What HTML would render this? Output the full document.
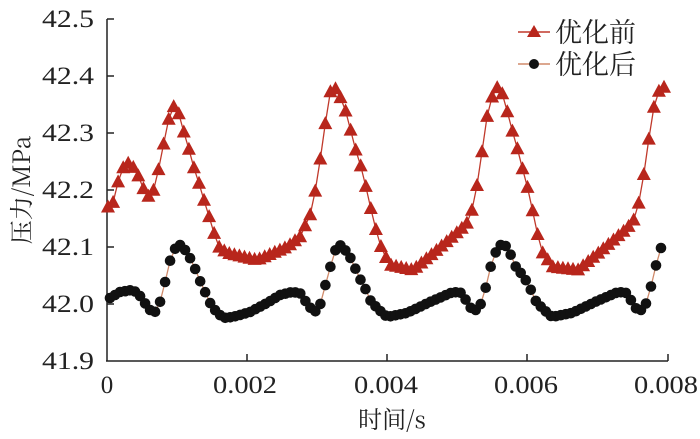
<!DOCTYPE html>
<html><head><meta charset="utf-8"><style>
html,body{margin:0;padding:0;background:#fff;width:700px;height:439px;overflow:hidden}
</style></head><body>
<svg id="s" width="700" height="439" viewBox="0 0 700 439" xmlns="http://www.w3.org/2000/svg" font-family="'Liberation Serif','Noto Serif CJK SC',serif">
<g stroke="#222" stroke-width="1.5" fill="none">
<line x1="107" y1="19" x2="107" y2="361"/>
<line x1="106" y1="361" x2="668" y2="361"/>
<line x1="107" y1="19" x2="114" y2="19"/><line x1="107" y1="76" x2="114" y2="76"/>
<line x1="107" y1="133" x2="114" y2="133"/><line x1="107" y1="190" x2="114" y2="190"/>
<line x1="107" y1="247" x2="114" y2="247"/><line x1="107" y1="304" x2="114" y2="304"/>
<line x1="247" y1="361" x2="247" y2="354"/><line x1="387" y1="361" x2="387" y2="354"/>
<line x1="527" y1="361" x2="527" y2="354"/><line x1="668" y1="361" x2="668" y2="354"/>
</g>
<g font-size="25" text-anchor="end" fill="#222" font-family="'Liberation Serif',serif">
<text x="94" y="27" textLength="52" lengthAdjust="spacingAndGlyphs">42.5</text>
<text x="94" y="84" textLength="52" lengthAdjust="spacingAndGlyphs">42.4</text>
<text x="94" y="141" textLength="52" lengthAdjust="spacingAndGlyphs">42.3</text>
<text x="94" y="198" textLength="52" lengthAdjust="spacingAndGlyphs">42.2</text>
<text x="94" y="255" textLength="52" lengthAdjust="spacingAndGlyphs">42.1</text>
<text x="94" y="312" textLength="52" lengthAdjust="spacingAndGlyphs">42.0</text>
<text x="94" y="369" textLength="52" lengthAdjust="spacingAndGlyphs">41.9</text>
</g>
<g font-size="25" text-anchor="middle" fill="#222" font-family="'Liberation Serif',serif">
<text x="107" y="393">0</text>
<text x="245" y="393" textLength="64" lengthAdjust="spacingAndGlyphs">0.002</text>
<text x="386" y="393" textLength="64" lengthAdjust="spacingAndGlyphs">0.004</text>
<text x="526" y="393" textLength="64" lengthAdjust="spacingAndGlyphs">0.006</text>
<text x="666" y="393" textLength="64" lengthAdjust="spacingAndGlyphs">0.008</text>
</g>
<g font-size="24" text-anchor="middle" fill="#222" font-family="'Noto Serif CJK SC',serif">
<text x="392" y="428">时间/s</text>
<text transform="translate(30,190) rotate(-90)">压力/MPa</text>
</g>
<g id="plot"></g>
<line x1="518" y1="32" x2="550" y2="32" stroke="#c0392b" stroke-width="1.5"/>
<polygon points="534,25 541,37 527,37" fill="#b8261c"/>
<text x="555" y="42" font-size="27" fill="#222" font-family="'Noto Serif CJK SC',serif">优化前</text>
<line x1="518" y1="64" x2="550" y2="64" stroke="#d08a6a" stroke-width="1.5"/>
<circle cx="534" cy="64" r="5" fill="#111"/>
<text x="555" y="74" font-size="27" fill="#222" font-family="'Noto Serif CJK SC',serif">优化后</text>
</svg>
<script>
var red=[[107,207],[112,207],[117,185],[123,168],[128,163],[133,167],[138,175],[143,188],[149,197],[155,188],[160,162],[166,132],[171,108],[177,105],[180,120],[187,142],[193,165],[198,180],[203,197],[208,213],[214,233],[219,247],[227,253],[257,260],[287,247],[300,237],[311,213],[317,182],[322,147],[327,112],[330,92],[335,88],[343,102],[349,123],[354,145],[360,163],[365,183],[370,205],[376,230],[382,250],[390,265],[413,270],[437,250],[460,230],[468,222],[473,207],[478,180],[483,145],[488,110],[495,88],[500,87],[505,102],[510,123],[517,147],[522,167],[527,185],[532,208],[537,232],[542,252],[553,267],[578,270],[602,250],[625,230],[633,222],[638,207],[643,180],[648,145],[653,110],[660,88],[666,87]];
var blk=[[108,298],[110,298],[120,292],[132,290],[138,293],[144,302],[150,310],[155,312],[161,300],[166,278],[171,257],[177,245],[182,245],[187,253],[193,263],[198,277],[204,289],[208,300],[215,310],[223,318],[233,317],[250,312],[267,303],[280,295],[292,292],[300,293],[306,302],[312,310],[317,312],[322,300],[327,278],[337,245],[340,245],[348,253],[353,263],[359,277],[365,288],[370,300],[377,308],[387,317],[407,313],[430,302],[453,292],[462,293],[467,302],[472,310],[478,310],[483,299],[488,278],[493,257],[500,245],[505,245],[510,252],[513,263],[524,277],[530,288],[535,300],[542,308],[552,317],[572,313],[595,302],[618,292],[627,293],[632,302],[637,310],[643,310],[648,299],[653,278],[658,257],[662,245]];
function interp(p,x){for(var i=1;i<p.length;i++){if(x<=p[i][0]){var a=p[i-1],b=p[i];var t=(x-a[0])/((b[0]-a[0])||1);return a[1]+t*(b[1]-a[1]);}}return p[p.length-1][1];}
var g=document.getElementById('plot'),h='';
function samples(p,x0,x1,n){var r=[];for(var i=0;i<=n;i++){var x=x0+(x1-x0)*i/n;r.push([x,interp(p,x)]);}return r;}
var rs=samples(red,108,664,110),bs=samples(blk,110,661,110);
h+='<polyline fill="none" stroke="#c0392b" stroke-width="1.3" points="'+rs.map(function(q){return q[0].toFixed(1)+','+q[1].toFixed(1)}).join(' ')+'"/>';
h+='<polyline fill="none" stroke="#d08a6a" stroke-width="1.3" points="'+bs.map(function(q){return q[0].toFixed(1)+','+q[1].toFixed(1)}).join(' ')+'"/>';
rs.forEach(function(q){var x=q[0],y=q[1];h+='<polygon fill="#b8261c" points="'+x.toFixed(1)+','+(y-7.5).toFixed(1)+' '+(x+7).toFixed(1)+','+(y+5.5).toFixed(1)+' '+(x-7).toFixed(1)+','+(y+5.5).toFixed(1)+'"/>';});
bs.forEach(function(q){h+='<circle fill="#111" r="5.3" cx="'+q[0].toFixed(1)+'" cy="'+q[1].toFixed(1)+'"/>';});
g.innerHTML=h;
</script>
</body></html>
